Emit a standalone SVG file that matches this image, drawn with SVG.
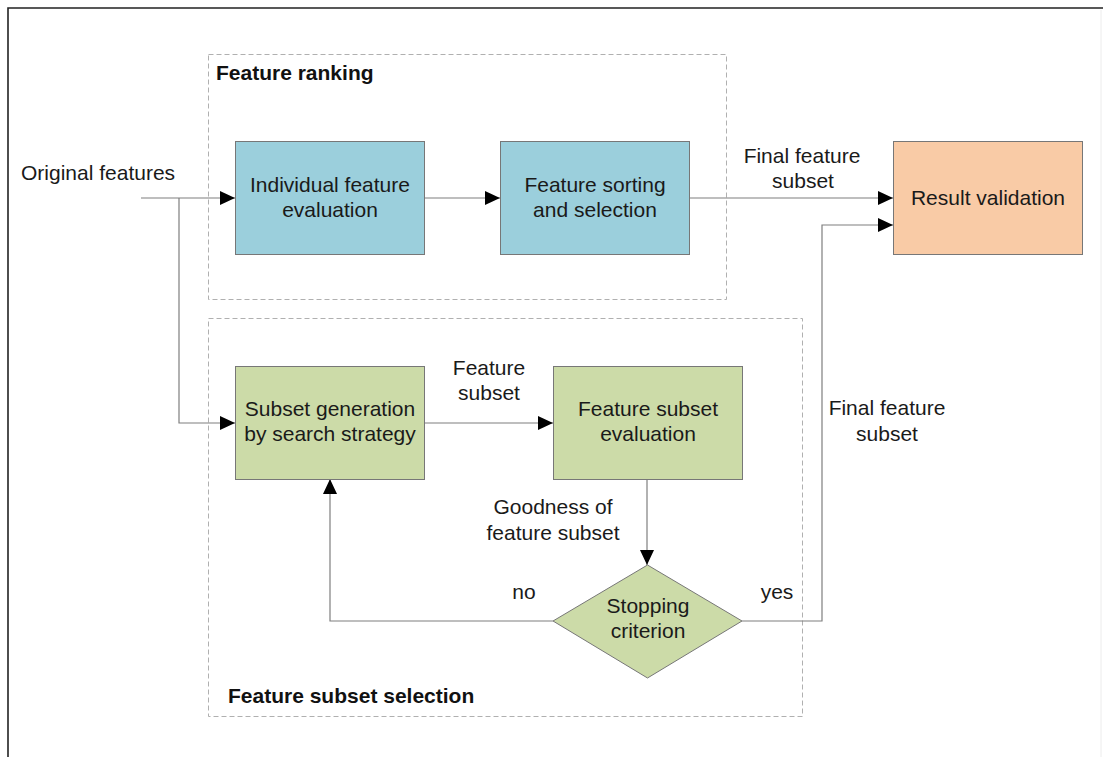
<svg xmlns="http://www.w3.org/2000/svg" width="1103" height="757" viewBox="0 0 1103 757">
  <style>
    text { font-family: "Liberation Sans", Arial, sans-serif; font-size: 21px; fill: #1a1a1a; }
    .title { font-weight: bold; font-size: 21px; fill: #111; }
    .mid { text-anchor: middle; }
    .group { fill: none; stroke: #b0b0b0; stroke-width: 1; stroke-dasharray: 5 3; }
    .blue { fill: #9BCFDC; stroke: #777; stroke-width: 1; }
    .peach { fill: #F9CBA6; stroke: #777; stroke-width: 1; }
    .green { fill: #CCDBA8; stroke: #777; stroke-width: 1; }
    .conn { fill: none; stroke: #7f7f7f; stroke-width: 1.2; }
  </style>
  <defs>
    <marker id="arrow" markerUnits="userSpaceOnUse" markerWidth="15" markerHeight="14" refX="15" refY="7" orient="auto">
      <path d="M0,0 L15,7 L0,14 Z" fill="#000"/>
    </marker>
  </defs>

  <!-- page frame -->
  <rect x="0" y="0" width="1103" height="757" fill="#fff"/>
  <path d="M8,757 L8,8 L1103,8" fill="none" stroke="#222" stroke-width="1.6"/>
  <line x1="1101" y1="10" x2="1101" y2="757" stroke="#ececec" stroke-width="1"/>

  <!-- dashed groups -->
  <g id="group-ranking">
    <rect class="group" x="208.5" y="54.5" width="518" height="245"/>
    <text class="title" x="216" y="80">Feature ranking</text>
  </g>
  <g id="group-subset-selection">
    <rect class="group" x="208.5" y="318.5" width="594" height="398"/>
    <text class="title" x="228" y="703">Feature subset selection</text>
  </g>

  <!-- connectors -->
  <g id="connectors">
    <path class="conn" d="M141,198 L235,198" marker-end="url(#arrow)"/>
    <path class="conn" d="M179,198 L179,423 L235,423" marker-end="url(#arrow)"/>
    <path class="conn" d="M424,198 L500,198" marker-end="url(#arrow)"/>
    <path class="conn" d="M689,198 L893,198" marker-end="url(#arrow)"/>
    <path class="conn" d="M424,423 L553,423" marker-end="url(#arrow)"/>
    <path class="conn" d="M647,479 L647,565" marker-end="url(#arrow)"/>
    <path class="conn" d="M553,621 L330,621 L330,479" marker-end="url(#arrow)"/>
    <path class="conn" d="M742,621 L822,621 L822,225 L893,225" marker-end="url(#arrow)"/>
  </g>

  <!-- connector labels -->
  <g id="labels">
    <text x="21" y="180">Original features</text>
    <text class="mid" x="802" y="163">Final feature</text>
    <text class="mid" x="803" y="188">subset</text>
    <text class="mid" x="489" y="375">Feature</text>
    <text class="mid" x="489" y="400">subset</text>
    <text class="mid" x="553" y="514">Goodness of</text>
    <text class="mid" x="553" y="540">feature subset</text>
    <text class="mid" x="524" y="599">no</text>
    <text class="mid" x="777" y="599">yes</text>
    <text class="mid" x="887" y="415">Final feature</text>
    <text class="mid" x="887" y="441">subset</text>
  </g>

  <!-- nodes -->
  <g id="individual-evaluation">
    <rect class="blue" x="235.5" y="141.5" width="189" height="113"/>
    <text class="mid" x="330" y="192">Individual feature</text>
    <text class="mid" x="330" y="217">evaluation</text>
  </g>
  <g id="sorting-selection">
    <rect class="blue" x="500.5" y="141.5" width="189" height="113"/>
    <text class="mid" x="595" y="192">Feature sorting</text>
    <text class="mid" x="595" y="217">and selection</text>
  </g>
  <g id="result-validation">
    <rect class="peach" x="893.5" y="141.5" width="189" height="113"/>
    <text class="mid" x="988" y="205">Result validation</text>
  </g>
  <g id="subset-generation">
    <rect class="green" x="235.5" y="366.5" width="189" height="113"/>
    <text class="mid" x="330" y="416">Subset generation</text>
    <text class="mid" x="330" y="441">by search strategy</text>
  </g>
  <g id="subset-evaluation">
    <rect class="green" x="553.5" y="366.5" width="189" height="113"/>
    <text class="mid" x="648" y="416">Feature subset</text>
    <text class="mid" x="648" y="441">evaluation</text>
  </g>
  <g id="stopping-criterion">
    <polygon class="green" points="647.5,565 742,621 647.5,678 553,621"/>
    <text class="mid" x="648" y="613">Stopping</text>
    <text class="mid" x="648" y="638">criterion</text>
  </g>
</svg>
